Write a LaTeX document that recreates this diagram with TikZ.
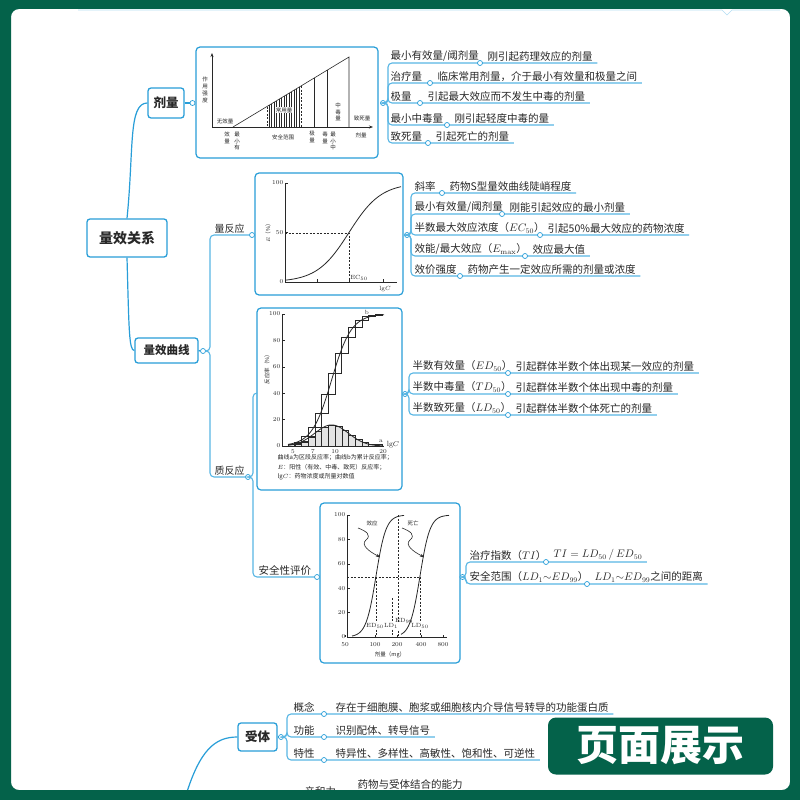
\documentclass[tikz,border=0pt]{standalone}
\usepackage{fontspec}
\newfontfamily\cjkfont{Noto Sans CJK SC}
\usetikzlibrary{arrows.meta}
\definecolor{frame}{RGB}{4,98,74}
\definecolor{edge}{RGB}{40,158,216}
\definecolor{twig}{RGB}{88,182,228}
\definecolor{ink}{RGB}{40,40,40}

\begin{document}
\begin{tikzpicture}[x=1pt, y=-1pt,
    topic/.style={draw=edge, line width=1.3pt, rounded corners=3pt, fill=white, text=ink, inner sep=0pt},
    panel/.style={draw=edge, line width=1.2pt, rounded corners=4pt, fill=white, inner sep=0pt},
    knob/.style={circle, draw=edge, fill=white, line width=0.7pt, minimum size=5pt, inner sep=0pt},
    twig/.style={draw=twig, line width=1.1pt, rounded corners=4pt},
    bough/.style={draw=edge, line width=1.2pt},
    lbl/.style={font=\cjkfont\fontsize{10.5}{12}\selectfont, text=ink, inner sep=1.5pt, anchor=south west},
    numlbl/.style={font=\fontsize{6}{7}\selectfont, text=ink, inner sep=0.6pt},
    cjklbl/.style={font=\cjkfont\fontsize{5.5}{6.8}\selectfont, text=ink, inner sep=0.5pt, align=center},
    chartaxis/.style={draw=ink, line width=0.6pt},
    sigmoid/.style={draw=ink, line width=0.8pt},
    guide/.style={draw=ink, line width=0.5pt, dash pattern=on 2pt off 1.5pt}
]
\fill[white] (0,0) rectangle (800,800);
\useasboundingbox (0,0) rectangle (800,800);
\draw[twig!45, line width=0.6pt] (78,10) -- (722,10) -- (727,15) -- (732,10) -- (780,10);

% Main topics
\node[topic, minimum width=80pt, minimum height=38pt, font=\cjkfont\bfseries\fontsize{14}{16}\selectfont] (R) at (127,238) {量效关系};
\node[topic, minimum width=36pt, minimum height=30pt, font=\cjkfont\bfseries\fontsize{12.5}{14}\selectfont] (J) at (166,103) {剂量};
\node[topic, minimum width=63pt, minimum height=25pt, font=\cjkfont\bfseries\fontsize{11.5}{13}\selectfont] (Q) at (166.5,350.5) {量效曲线};
\node[topic, minimum width=39pt, minimum height=28pt, font=\cjkfont\bfseries\fontsize{12.5}{14}\selectfont] (S) at (257.5,737) {受体};

\draw[bough] (R.north) .. controls (134,150) and (128,103) .. (J.west);
\draw[bough] (R.south) .. controls (129,330) and (129,350.5) .. (Q.west);

% Chart panels
\node[panel, minimum width=182pt, minimum height=111pt] (P1) at (287,102.5) {};
\node[panel, minimum width=148pt, minimum height=122pt] (P2) at (329,234) {};
\node[panel, minimum width=145pt, minimum height=182pt] (P3) at (329.5,399) {};
\node[panel, minimum width=140pt, minimum height=160pt] (P4) at (390,583) {};

% Dose chart
\draw[chartaxis, -{Stealth[length=4pt, width=3pt]}] (212,127) -- (212,53);
\draw[chartaxis, -{Stealth[length=4pt, width=3pt]}] (212,127) -- (373,127);
\draw[chartaxis] (233,127) -- (349,57) -- (349,127);
\draw[chartaxis] (314,78.1) -- (314,127);
\draw[chartaxis] (327,70.3) -- (327,127);
\foreach \x in {269,271.5,...,299}
  \draw[ink, line width=0.45pt] (\x,{127-(\x-233)*0.6034}) -- (\x,127);
\draw[guide, line width=0.7pt] (267,106.5) -- (267,127);
\draw[guide, line width=0.7pt] (301,86) -- (301,127);
\node[cjklbl] (d1) at (205,90) {作\\用\\强\\度};
\node[cjklbl] (d2) at (225,121) {无效量};
\node[cjklbl, fill=white] (d3) at (284,110) {常用量};
\node[cjklbl] (d4) at (338,112) {中\\毒\\量};
\node[cjklbl] (d5) at (362,118) {致死量};
\node[cjklbl] (d6) at (227,138) {效\\量};
\node[cjklbl] (d7) at (237,141) {最\\小\\有};
\node[cjklbl] (d8) at (283,137) {安全范围};
\node[cjklbl] (d9) at (312,137) {极\\量};
\node[cjklbl] (d10) at (325,138) {毒\\量};
\node[cjklbl] (d11) at (333,141) {最\\小\\中};
\node[cjklbl] (d12) at (361,135) {剂量};

% Graded response chart
\draw[chartaxis] (285,183) -- (285,282) -- (397,282);
\foreach \x in {317,349,383}
  \draw[chartaxis] (\x,282) -- (\x,279);
\foreach \v in {0,50,100} {
  \draw[chartaxis] (285,{282-0.99*\v}) -- (288,{282-0.99*\v});
  \node[numlbl, anchor=east] (e\v) at (284,{282-0.99*\v}) {\v};
}
\draw[sigmoid] plot[domain=286:401, samples=60] (\x,{282-99/(1+exp(-(\x-349)/16))});
\draw[guide] (285,233) -- (349,233) -- (349,282);
\node[numlbl, anchor=south west] (ec) at (349.5,281) {EC$_{50}$};
\node[numlbl] (lgc1) at (385,289) {lg$C$};
\node[cjklbl, rotate=90] (ey) at (268,232) {$E$（\%）};

% Quantal response chart
\foreach \f [count=\i from 0] in {1,2,4,7,11,14,16,15,12,8,5,3,1,1}
  \draw[ink, fill=gray!22, line width=0.4pt] ({288+\i*6.714},446) rectangle ++(6.714,{-\f*1.32});
\foreach \f/\c [count=\i from 0] in {1/0,2/1,4/3,7/7,11/14,14/25,16/39,15/55,12/70,8/82,5/90,3/95,1/98,1/99}
  \draw[ink, line width=0.6pt] ({288+\i*6.714},{446-\c*1.32}) rectangle ++(6.714,{-\f*1.32});
\draw[sigmoid] plot[domain=288:383, samples=50] (\x,{446-1.32*16*exp(-((\x-331.6)^2)/(2*16.8^2))});
\draw[sigmoid] plot[domain=288:384, samples=60] (\x,{446-132/(1+exp(-(\x-331.6)/9.9))});
\draw[chartaxis] (282,314) -- (282,446) -- (384,446);
\foreach \v in {0,20,...,100} {
  \draw[chartaxis] (282,{446-1.32*\v}) -- (284.5,{446-1.32*\v});
  \node[numlbl, anchor=east] (h\v) at (281,{446-1.32*\v}) {\v};
}
\foreach \t/\x in {5/293,7/313,10/335,20/383}
  \node[numlbl] (g\t) at (\x,452) {\t};
\node[numlbl, font=\fontsize{7.5}{8}\selectfont] (lgc2) at (393,445) {lg$C$};
\node[numlbl] (ca) at (381,441) {a};
\node[numlbl] (cb) at (367,312) {b};
\node[cjklbl, rotate=90] (hy) at (267,368) {反应率（\%）};
\node[cjklbl, anchor=north west, align=left, font=\cjkfont\fontsize{6}{9.5}\selectfont] (cap) at (277,454)
  {曲线a为区段反应率；曲线b为累计反应率；\\$E$：阳性（有效、中毒、致死）反应率；\\lg$C$：药物浓度或剂量对数值};

% Safety chart
\draw[chartaxis] (347,515) -- (347,637) -- (447,637);
\foreach \v in {0,20,...,100} {
  \draw[chartaxis] (347,{637-1.22*\v}) -- (349.5,{637-1.22*\v});
  \node[numlbl, anchor=east] (f\v) at (346,{637-1.22*\v}) {\v};
}
\foreach \t/\x in {50/345,100/375,200/397,400/421,800/443} {
  \draw[chartaxis] (\x,637) -- (\x,634.5);
  \node[numlbl] (m\t) at (\x,645) {\t};
}
\node[cjklbl] (mx) at (390,655) {剂量（mg）};
\draw[sigmoid] plot[domain=352:404, samples=60] (\x,{637-122/(1+exp(-(\x-376)/5))});
\draw[sigmoid] plot[domain=401:449, samples=60] (\x,{637-122/(1+exp(-(\x-420)/5))});
\draw[guide] (347,577) -- (420,577);
\draw[guide] (376,577) -- (376,637);
\draw[guide] (398,515) -- (398,637);
\draw[guide] (392,598) -- (392,637);
\draw[guide] (420,577) -- (420,637);
\node[numlbl, fill=white] (ed50) at (375,626) {ED$_{50}$};
\node[numlbl, fill=white] (ld1) at (391,626) {LD$_{1}$};
\node[numlbl] (ed99) at (404,621) {ED$_{99}$};
\node[numlbl, fill=white] (ld50) at (420,626) {LD$_{50}$};
\node[cjklbl] (xy) at (372,523) {效应};
\node[cjklbl] (sw) at (413,523) {死亡};
\coordinate (w1) at (358,528);
\coordinate (w2) at (380,557);
\coordinate (w3) at (402,528);
\coordinate (w4) at (424,557);
\draw[chartaxis, -{Stealth[length=4pt, width=3pt]}] (w1) .. controls (366,531) and (372,535) .. (366,540) .. controls (360,545) and (370,552) .. (w2);
\draw[chartaxis, -{Stealth[length=4pt, width=3pt]}] (w3) .. controls (410,531) and (416,535) .. (410,540) .. controls (404,545) and (414,552) .. (w4);

% Dose branches
\node[knob] (j0) at (192.5,103) {};
\draw[bough] (J.east) -- (j0.west);
\node[knob] (a0) at (383,103) {};
\foreach \i/\y/\c/\lab/\val in {
    1/63/480/{最小有效量/阈剂量}/{刚引起药理效应的剂量},
    2/83/430/{治疗量}/{临床常用剂量，介于最小有效量和极量之间},
    3/103/420/{极量}/{引起最大效应而不发生中毒的剂量},
    4/125/447/{最小中毒量}/{刚引起轻度中毒的量},
    5/143/428/{致死量}/{引起死亡的剂量}} {
  \node[lbl] (la\i) at (389,\y) {\lab};
  \node[lbl] (va\i) at (\c+6,\y) {\val};
  \draw[twig] (a0.east) -- (388,103) |- ([xshift=3pt]va\i.south east);
  \node[knob] (ka\i) at (\c,\y) {};
}

% Curve branches
\node[knob] (q0) at (203,351) {};
\node[knob] (q1) at (252,235) {};
\node[knob] (q2) at (248,477) {};
\node[knob] (s0) at (317,577) {};
\coordinate (p3w) at (257,393);
\draw[bough] (Q.east) -- (q0.west);
\draw[twig] (q0.east) -- (210,351) |- (q1.west);
\draw[twig] (q0.east) -- (210,351) |- (q2.west);
\draw[twig] (q2.east) -- (253,477) |- (p3w);
\draw[twig] (q2.east) -- (253,477) |- (s0.west);
\node[lbl, font=\cjkfont\fontsize{10}{12}\selectfont] (t1) at (213,235) {量反应};
\node[lbl, font=\cjkfont\fontsize{10}{12}\selectfont] (t2) at (213,477) {质反应};
\node[lbl] (t3) at (257,577) {安全性评价};

% Graded response items
\node[knob] (b0) at (407,235) {};
\foreach \i/\y/\c/\lab/\val in {
    1/193/442/{斜率}/{药物S型量效曲线陡峭程度},
    2/214/502/{最小有效量/阈剂量}/{刚能引起效应的最小剂量},
    3/235/540/{半数最大效应浓度（$EC_{50}$）}/{引起50\%最大效应的药物浓度},
    4/256/525/{效能/最大效应（$E_{\max}$）}/{效应最大值},
    5/276/460/{效价强度}/{药物产生一定效应所需的剂量或浓度}} {
  \node[lbl] (lb\i) at (413,\y) {\lab};
  \node[lbl] (vb\i) at (\c+6,\y) {\val};
  \draw[twig] (b0.east) -- (411,235) |- ([xshift=3pt]vb\i.south east);
  \node[knob] (kb\i) at (\c,\y) {};
}

% Quantal items
\node[knob] (c0) at (405,394) {};
\foreach \i/\y/\c/\lab/\val in {
    1/373/508/{半数有效量（$ED_{50}$）}/{引起群体半数个体出现某一效应的剂量},
    2/394/508/{半数中毒量（$TD_{50}$）}/{引起群体半数个体出现中毒的剂量},
    3/415/508/{半数致死量（$LD_{50}$）}/{引起群体半数个体死亡的剂量}} {
  \node[lbl] (lc\i) at (411,\y) {\lab};
  \node[lbl] (vc\i) at (\c+6,\y) {\val};
  \draw[twig] (c0.east) -- (409,394) |- ([xshift=3pt]vc\i.south east);
  \node[knob] (kc\i) at (\c,\y) {};
}

% Safety items
\node[knob] (d0) at (462.5,577) {};
\foreach \i/\y/\c/\lab/\val in {
    1/562/546/{治疗指数（$TI$）}/{$TI = LD_{50}\,/\,ED_{50}$},
    2/584/587/{安全范围（$LD_{1}{\sim}ED_{99}$）}/{$LD_{1}{\sim}ED_{99}$之间的距离}} {
  \node[lbl] (ld\i) at (468,\y) {\lab};
  \node[lbl] (vd\i) at (\c+6,\y) {\val};
  \draw[twig] (d0.east) -- (466,577) |- ([xshift=3pt]vd\i.south east);
  \node[knob] (kd\i) at (\c,\y) {};
}

% Receptor
\coordinate (s9) at (186,795);
\draw[bough] (s9) .. controls (200,750) and (215,737) .. (S.west);
\node[knob] (e0) at (281,737) {};
\draw[bough] (S.east) -- (e0.west);
\foreach \i/\y/\lab/\val in {
    1/714/{概念}/{存在于细胞膜、胞浆或细胞核内介导信号转导的功能蛋白质},
    2/737/{功能}/{识别配体、转导信号},
    3/760/{特性}/{特异性、多样性、高敏性、饱和性、可逆性}} {
  \node[lbl] (le\i) at (292,\y) {\lab};
  \node[lbl] (ve\i) at (334,\y) {\val};
  \draw[twig] (e0.east) -- (287,737) |- ([xshift=3pt]ve\i.south east);
  \node[knob] (ke\i) at (324,\y) {};
}
\node[lbl, anchor=west] (aff) at (356,784) {药物与受体结合的能力};
\node[lbl, anchor=north west] (affn) at (303,785) {亲和力};

% Frame and badge
\fill[frame, even odd rule] (0,0) rectangle (800,800) [rounded corners=8pt] (11,9) rectangle (790,790);
\node[fill=frame, rounded corners=8pt, minimum width=225pt, minimum height=57pt, text=white,
  font=\cjkfont\bfseries\fontsize{42}{44}\selectfont] (badge) at (660.5,746) {页面展示};
\end{tikzpicture}
\end{document}
